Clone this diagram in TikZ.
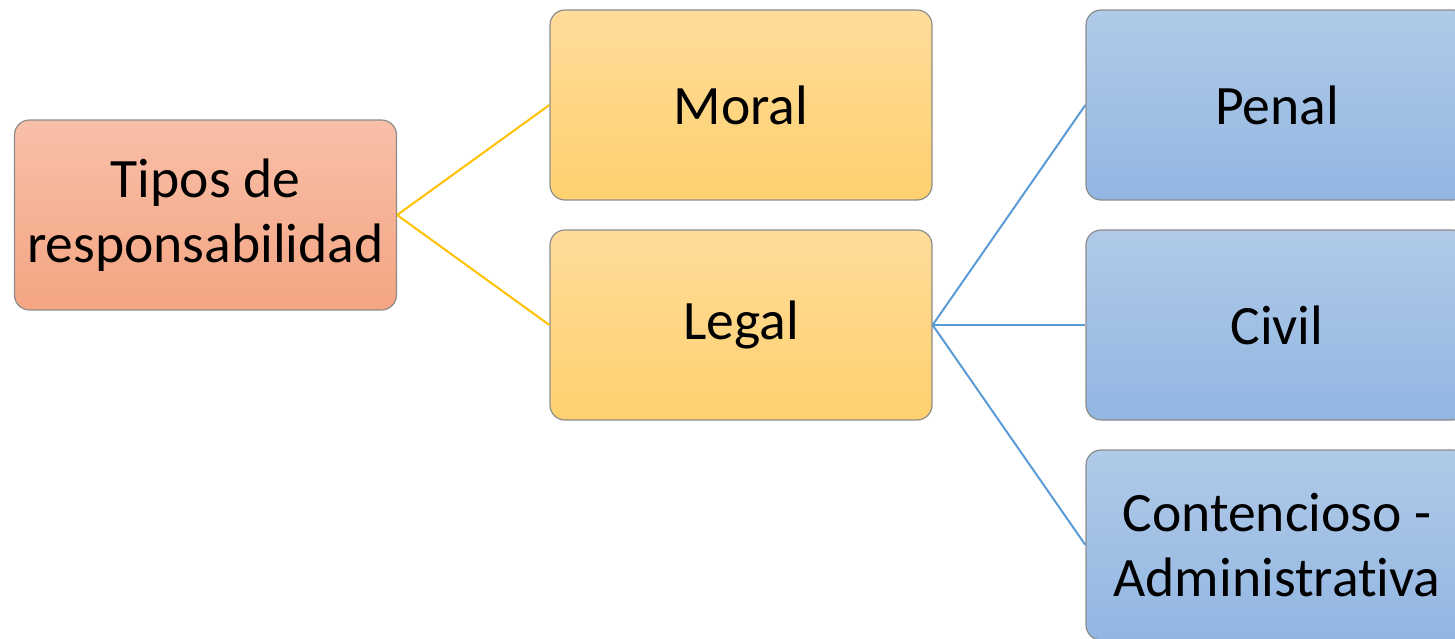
\documentclass[tikz,border=0pt]{standalone}
\usepackage{fontspec}
\setmainfont[Ligatures=NoCommon]{Carlito}
\begin{document}
\begin{tikzpicture}[x=0.5pt,y=-0.5pt,
  box/.style={draw=black!45, line width=0.6pt, rounded corners=7.5pt, minimum width=191pt, minimum height=95pt, align=center, inner sep=0pt, font=\fontsize{27.8}{32.5}\selectfont},
  salmon/.style={box, top color=salmontop, bottom color=salmonbot},
  yell/.style={box, top color=yeltop, bottom color=yelbot},
  blu/.style={box, top color=blutop, bottom color=blubot},
  yline/.style={draw=lineyel, line width=1pt},
  bline/.style={draw=lineblu, line width=1pt}]
\definecolor{salmontop}{HTML}{F8BFA8}
\definecolor{salmonbot}{HTML}{F4A582}
\definecolor{yeltop}{HTML}{FFDC9A}
\definecolor{yelbot}{HTML}{FED06E}
\definecolor{blutop}{HTML}{B0CAE8}
\definecolor{blubot}{HTML}{92B6E2}
\definecolor{lineyel}{HTML}{FFC000}
\definecolor{lineblu}{HTML}{5B9BD5}
\useasboundingbox (0,0) rectangle (1455,638);
\clip (0,0) rectangle (1455,638);
\node[salmon] (tipos) at (205.5,215) {Tipos de\\responsabilidad};
\node[yell] (moral) at (741,105) {Moral};
\node[yell] (legal) at (741,325) {Legal};
\node[blu] (penal) at (1277,105) {Penal};
\node[blu] (civil) at (1277,325) {Civil};
\node[blu] (cont) at (1277,545) {Contencioso -\\Administrativa};
\draw[yline] (tipos.east) -- (moral.west);
\draw[yline] (tipos.east) -- (legal.west);
\draw[bline] (legal.east) -- (penal.west);
\draw[bline] (legal.east) -- (civil.west);
\draw[bline] (legal.east) -- (cont.west);
\end{tikzpicture}
\end{document}
